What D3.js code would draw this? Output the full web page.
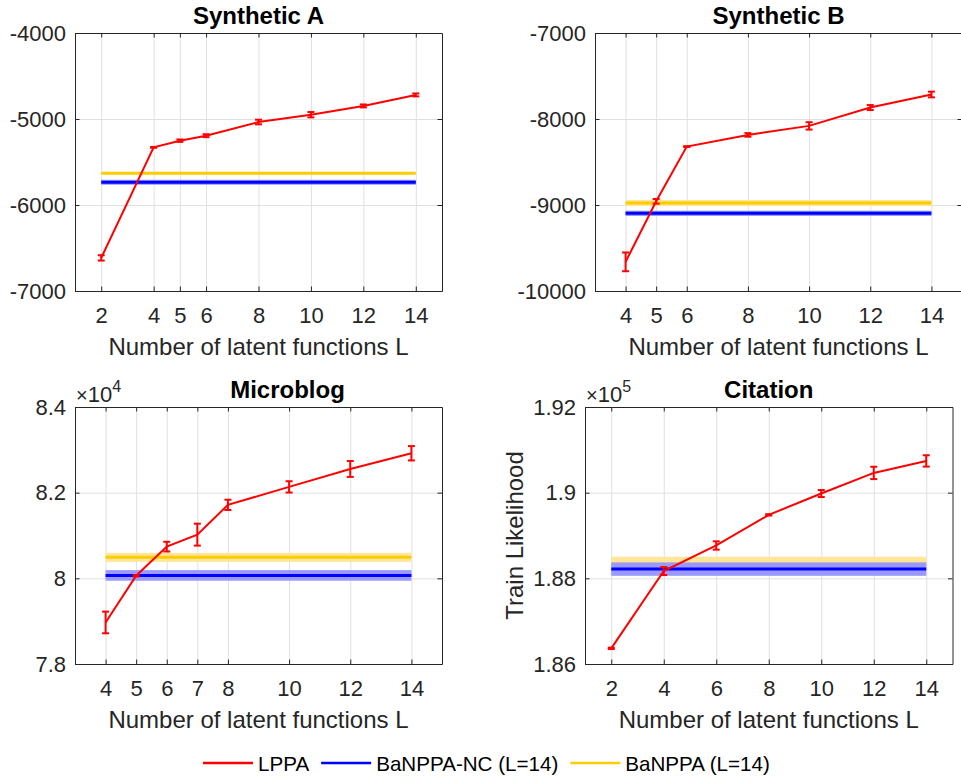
<!DOCTYPE html>
<html><head><meta charset="utf-8">
<script src="https://cdn.jsdelivr.net/npm/d3@7"></script>
<style>
body{margin:0;background:#fff}
svg{display:block}
text{font-family:"Liberation Sans",Arial,Helvetica,sans-serif}
</style>
</head><body>
<svg id="chart" width="961" height="778"></svg>
<script>
// ---------------- DATA ----------------
const seriesNames = ["LPPA", "BaNPPA-NC (L=14)", "BaNPPA (L=14)"];
const xLabel = "Number of latent functions L";
const yLabel = "Train Likelihood";

// Synthetic A
const latentA = [2, 4, 5, 6, 8, 10, 12, 14];
const lppaA = [-6615, -5330, -5252, -5194, -5035, -4950, -4848, -4720];
const lppaErrA = [31, 5, 14, 17, 27, 31, 17, 17];
const banppaNcA = -5736, banppaNcErrA = 29;
const banppaA = -5631, banppaErrA = 10;
const xTicksA = [2, 4, 5, 6, 8, 10, 12, 14];
const yTicksA = [-7000, -6000, -5000, -4000];
const yTickLabelsA = ["-7000", "-6000", "-5000", "-4000"];

// Synthetic B
const latentB = [4, 5, 6, 8, 10, 12, 14];
const lppaB = [-9661, -8957, -8321, -8185, -8080, -7867, -7715];
const lppaErrB = [109, 27, 5, 21, 43, 29, 33];
const banppaNcB = -9097, banppaNcErrB = 31;
const banppaB = -8977, banppaErrB = 35;
const xTicksB = [4, 5, 6, 8, 10, 12, 14];
const yTicksB = [-10000, -9000, -8000, -7000];
const yTickLabelsB = ["-10000", "-9000", "-8000", "-7000"];

// Microblog
const latentC = [4, 5, 6, 7, 8, 10, 12, 14];
const lppaC = [78970, 80060, 80740, 81020, 81715, 82135, 82554, 82920];
const lppaErrC = [253, 16, 113, 256, 120, 132, 186, 167];
const banppaNcC = 80068, banppaNcErrC = 124;
const banppaC = 80490, banppaErrC = 105;
const xTicksC = [4, 5, 6, 7, 8, 10, 12, 14];
const yTicksC = [78000, 80000, 82000, 84000];
const yTickLabelsC = ["7.8", "8", "8.2", "8.4"];

// Citation
const latentD = [2, 4, 6, 8, 10, 12, 14];
const lppaD = [186365, 188170, 188767, 189482, 189980, 190461, 190741];
const lppaErrD = [16, 93, 97, 16, 82, 144, 132];
const banppaNcD = 188215, banppaNcErrD = 156;
const banppaD = 188330, banppaErrD = 175;
const xTicksD = [2, 4, 6, 8, 10, 12, 14];
const yTicksD = [186000, 188000, 190000, 192000];
const yTickLabelsD = ["1.86", "1.88", "1.9", "1.92"];

// ---------------- STYLE / LAYOUT ----------------
const RED = "#ff0000", BLUE = "#0000ff", YELLOW = "#ffcc00";
const BLUE_BAND = "#9999ff", YELLOW_BAND = "#ffe699";
const AX = "#262626", GRID = "#e0e0e0";
const TICK_FS = 22, LABEL_FS = 24, TITLE_FS = 24;

const panels = [
  {title: "Synthetic A", L: latentA, mean: lppaA, err: lppaErrA,
   nc: banppaNcA, ncErr: banppaNcErrA, ba: banppaA, baErr: banppaErrA,
   xDom: [1, 15], xTicks: xTicksA, yDom: [-7000, -4000], yTicks: yTicksA, yLabels: yTickLabelsA,
   box: {l: 75, t: 33, w: 367, h: 258}, titleDx: 0},
  {title: "Synthetic B", L: latentB, mean: lppaB, err: lppaErrB,
   nc: banppaNcB, ncErr: banppaNcErrB, ba: banppaB, baErr: banppaErrB,
   xDom: [3, 15], xTicks: xTicksB, yDom: [-10000, -7000], yTicks: yTicksB, yLabels: yTickLabelsB,
   box: {l: 595, t: 33, w: 367, h: 258}, titleDx: 0},
  {title: "Microblog", L: latentC, mean: lppaC, err: lppaErrC,
   nc: banppaNcC, ncErr: banppaNcErrC, ba: banppaC, baErr: banppaErrC,
   xDom: [3, 15], xTicks: xTicksC, yDom: [78000, 84000], yTicks: yTicksC, yLabels: yTickLabelsC,
   box: {l: 75, t: 407, w: 367, h: 257}, titleDx: 29, exp: "4"},
  {title: "Citation", L: latentD, mean: lppaD, err: lppaErrD,
   nc: banppaNcD, ncErr: banppaNcErrD, ba: banppaD, baErr: banppaErrD,
   xDom: [1, 15], xTicks: xTicksD, yDom: [186000, 192000], yTicks: yTicksD, yLabels: yTickLabelsD,
   box: {l: 585, t: 407, w: 367.5, h: 257}, titleDx: 0, exp: "5", ylab: true}
];

const svg = d3.select("#chart");

panels.forEach(p => {
  const {l, t, w, h} = p.box;
  const x = d3.scaleLinear().domain(p.xDom).range([l, l + w]);
  const y = d3.scaleLinear().domain(p.yDom).range([t + h, t]);
  const g = svg.append("g");

  // grid
  const gx = g.append("g").attr("transform", `translate(0,${t + h})`)
    .call(d3.axisBottom(x).tickValues(p.xTicks).tickSize(-h).tickFormat(""));
  const gy = g.append("g").attr("transform", `translate(${l},0)`)
    .call(d3.axisLeft(y).tickValues(p.yTicks).tickSize(-w).tickFormat(""));
  [gx, gy].forEach(a => {
    a.select(".domain").remove();
    a.selectAll("line").attr("stroke", GRID).attr("stroke-width", 1);
  });

  const x0 = x(p.L[0]), x1 = x(p.L[p.L.length - 1]);

  // BaNPPA (yellow) band + mean
  g.append("rect").attr("x", x0).attr("width", x1 - x0)
    .attr("y", y(p.ba + p.baErr)).attr("height", Math.max(0, y(p.ba - p.baErr) - y(p.ba + p.baErr)))
    .attr("fill", YELLOW_BAND);
  g.append("line").attr("x1", x0).attr("x2", x1).attr("y1", y(p.ba)).attr("y2", y(p.ba))
    .attr("stroke", YELLOW).attr("stroke-width", 3);

  // BaNPPA-NC (blue) band + mean
  g.append("rect").attr("x", x0).attr("width", x1 - x0)
    .attr("y", y(p.nc + p.ncErr)).attr("height", Math.max(0, y(p.nc - p.ncErr) - y(p.nc + p.ncErr)))
    .attr("fill", BLUE_BAND);
  g.append("line").attr("x1", x0).attr("x2", x1).attr("y1", y(p.nc)).attr("y2", y(p.nc))
    .attr("stroke", BLUE).attr("stroke-width", 3);

  // LPPA line
  const pts = p.L.map((v, i) => [v, p.mean[i], p.err[i]]);
  g.append("path").datum(pts)
    .attr("d", d3.line().x(d => x(d[0])).y(d => y(d[1])))
    .attr("fill", "none").attr("stroke", RED).attr("stroke-width", 2);
  const eb = g.append("g").attr("stroke", RED).attr("stroke-width", 2);
  pts.forEach(d => {
    const cx = x(d[0]), ya = y(d[1] + d[2]), yb = y(d[1] - d[2]);
    eb.append("line").attr("x1", cx).attr("x2", cx).attr("y1", ya).attr("y2", yb);
    eb.append("line").attr("x1", cx - 3.5).attr("x2", cx + 3.5).attr("y1", ya).attr("y2", ya);
    eb.append("line").attr("x1", cx - 3.5).attr("x2", cx + 3.5).attr("y1", yb).attr("y2", yb);
  });

  // axes (box with inward ticks)
  const fmtY = v => p.yLabels[p.yTicks.indexOf(v)];
  const styleAxis = a => {
    a.attr("font-size", TICK_FS).attr("font-family", '"Liberation Sans", Arial, sans-serif')
      .attr("color", AX);
    a.select(".domain").attr("stroke", AX).attr("stroke-width", 1);
    a.selectAll("line").attr("stroke", AX);
    a.selectAll("text").attr("fill", AX);
  };
  g.append("g").attr("transform", `translate(0,${t + h})`)
    .call(d3.axisBottom(x).tickValues(p.xTicks).tickSizeInner(-4.5).tickSizeOuter(0).tickPadding(16).tickFormat(d3.format("d")))
    .call(styleAxis);
  g.append("g").attr("transform", `translate(0,${t})`)
    .call(d3.axisTop(x).tickValues(p.xTicks).tickSizeInner(-4.5).tickSizeOuter(0).tickFormat(""))
    .call(styleAxis);
  g.append("g").attr("transform", `translate(${l},0)`)
    .call(d3.axisLeft(y).tickValues(p.yTicks).tickSizeInner(-4.5).tickSizeOuter(0).tickPadding(9).tickFormat(fmtY))
    .call(styleAxis);
  g.append("g").attr("transform", `translate(${l + w},0)`)
    .call(d3.axisRight(y).tickValues(p.yTicks).tickSizeInner(-4.5).tickSizeOuter(0).tickFormat(""))
    .call(styleAxis);

  // title
  g.append("text").attr("x", l + w / 2 + p.titleDx).attr("y", t - 9.5)
    .attr("text-anchor", "middle").attr("font-size", TITLE_FS).attr("font-weight", "bold")
    .attr("fill", "#000").text(p.title);

  // x label
  g.append("text").attr("x", l + w / 2).attr("y", t + h + 64)
    .attr("text-anchor", "middle").attr("font-size", LABEL_FS).attr("fill", AX).text(xLabel);

  // exponent
  if (p.exp) {
    const e = g.append("text").attr("x", l + 1).attr("y", t - 5).attr("fill", AX).attr("font-size", 22);
    e.append("tspan").attr("font-size", 20).text("\u00d7");
    e.append("tspan").text("10");
    e.append("tspan").attr("font-size", 16).attr("dy", -10).text(p.exp);
  }

  // y label
  if (p.ylab) {
    g.append("text").attr("transform", `translate(523,${t + h / 2}) rotate(-90)`)
      .attr("text-anchor", "middle").attr("font-size", LABEL_FS).attr("fill", AX).text(yLabel);
  }
});

// ---------------- LEGEND ----------------
const legendColors = [RED, BLUE, YELLOW];
const leg = svg.append("g");
let cx = 203;
const ly = 763;
seriesNames.forEach((name, i) => {
  leg.append("line").attr("x1", cx).attr("x2", cx + 50).attr("y1", ly).attr("y2", ly)
    .attr("stroke", legendColors[i]).attr("stroke-width", 2.5);
  const tx = leg.append("text").attr("x", cx + 55).attr("y", ly + 7.5)
    .attr("font-size", 20.6).attr("fill", "#000").text(name);
  cx = cx + 55 + tx.node().getComputedTextLength() + 12;
});
</script>
</body></html>
